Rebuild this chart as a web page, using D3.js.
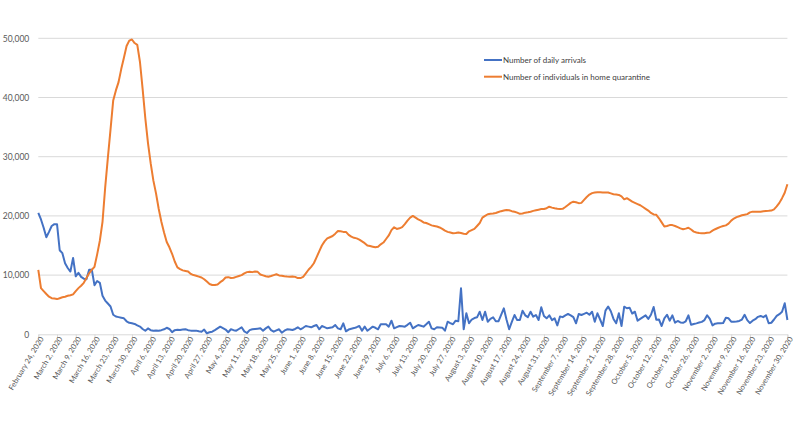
<!DOCTYPE html>
<html><head><meta charset="utf-8">
<script src="https://cdn.jsdelivr.net/npm/d3@7"></script>
<style>
html,body{margin:0;padding:0;background:#fff;}
svg{display:block;font-family:Lato,"Open Sans",sans-serif;}
</style></head>
<body><svg id="c" width="800" height="423"></svg>
<script>
// Daily series, February 24, 2020 to November 30, 2020 (one value per day, 7 per row)
const seriesNames = ["Number of daily arrivals", "Number of individuals in home quarantine"];
const startDay = "2020-02-24";
const endDay = "2020-11-30";
const yTicks = [0, 10000, 20000, 30000, 40000, 50000];

const dailyArrivals = [
20500,19400,18000,16400,17300,18300,18600,
18600,14200,13700,12000,11200,10600,12900,
9800,10400,9700,9400,9300,10900,10900,
8300,9000,8700,6500,5700,5200,4700,
3300,3000,2900,2800,2700,2200,1950,
1850,1750,1500,1300,900,600,1000,
700,600,650,600,700,850,1100,
900,350,700,750,730,800,850,
700,620,600,620,500,440,800,
170,350,440,700,1000,1290,1050,
800,340,850,700,610,900,1180,
500,220,700,850,900,950,1010,
610,1000,1290,700,440,650,850,
270,600,850,800,730,900,1180,
850,1100,1400,1300,1180,1400,1570,
850,1400,1200,1010,1100,1180,1570,
1000,850,1860,500,800,950,1050,
1200,1400,610,1290,610,950,1290,
1100,850,1690,1690,1690,1290,2300,
1010,1200,1400,1350,1290,1600,1960,
1010,1300,1570,1450,1290,1700,2130,
1000,850,1180,1150,1120,610,2130,
1900,1700,2300,2200,7770,850,3550,
1860,2500,2750,2870,3820,2420,3820,
2130,2600,2870,2200,2200,3300,4390,
2500,850,2100,3260,2400,2400,3990,
3200,2900,3820,2980,3260,2420,4560,
3090,2700,3200,2400,2700,1500,3000,
2900,3200,3430,3200,2900,1860,3430,
3260,3450,3650,3300,3820,2130,3550,
2500,1400,4000,4700,3900,2600,1860,
3550,1400,4660,4400,4500,3500,3820,
2300,2600,2900,3200,2600,3300,4600,
2450,2500,1400,2700,3300,2300,3200,
1960,2250,2000,1950,2200,3200,1600,
1740,1850,1980,2100,2400,3200,2600,
1500,1800,1860,1860,1900,2800,2700,
2130,2130,2150,2250,2500,3300,2400,
1900,2300,2550,2950,3100,2900,3200,
1860,1950,2500,3100,3400,3800,5240,
2420];

const homeQuarantine = [
10870,7800,7300,6800,6350,6100,6050,
5950,6100,6250,6350,6500,6600,6750,
7300,7800,8200,8700,9500,10300,10900,
11400,13500,15800,19000,24800,29800,34600,
39500,41200,42600,44800,46700,48700,49600,
49800,49200,48900,46000,41400,36500,32300,
28900,26000,23800,21200,19000,17200,15600,
14700,13600,12300,11300,11000,10800,10700,
10600,10200,10000,9900,9750,9600,9300,
8900,8500,8330,8330,8400,8800,9100,
9600,9650,9500,9550,9700,9850,10000,
10300,10500,10580,10500,10600,10550,10100,
9950,9800,9730,9850,10000,10150,9950,
9900,9800,9750,9730,9750,9700,9500,
9500,9700,10300,10900,11400,12000,13000,
14000,15000,15700,16200,16400,16600,17000,
17450,17400,17300,17300,16800,16500,16300,
16200,16000,15700,15400,15000,14900,14800,
14700,14800,15200,15500,16100,16700,17600,
18080,17800,17900,18100,18600,19200,19700,
20000,19700,19400,19200,18900,18800,18600,
18400,18300,18200,18050,17800,17500,17300,
17200,17070,17100,17200,17100,17000,16950,
17400,17600,17800,18300,18800,19700,20000,
20280,20350,20400,20500,20650,20800,20900,
21000,20950,20800,20700,20550,20350,20400,
20550,20600,20700,20850,20950,21050,21150,
21180,21300,21550,21400,21290,21200,21150,
21200,21500,21850,22200,22400,22300,22150,
22200,22700,23200,23600,23850,23950,24000,
24000,23950,23950,23940,23800,23660,23600,
23540,23300,22800,23000,22700,22400,22200,
22000,21800,21500,21200,20900,20500,20250,
20180,19600,18900,18200,18300,18450,18450,
18300,18100,17900,17740,17850,18000,17700,
17340,17200,17100,17080,17070,17150,17200,
17500,17750,17950,18150,18300,18400,18700,
19200,19550,19800,19950,20100,20200,20300,
20600,20720,20720,20700,20720,20780,20840,
20850,20900,21100,21600,22200,23000,23900,
25350];

const colors = ["#4472C4", "#ED7D31"];

const svg = d3.select("#c");
const parse = d3.utcParse("%Y-%m-%d");
const t0 = parse(startDay), t1 = parse(endDay);
const dates = d3.utcDay.range(t0, d3.utcDay.offset(t1, 1));

const x = d3.scaleUtc().domain([t0, t1]).range([38.3, 787.4]);
const y = d3.scaleLinear().domain([0, 50000]).range([334.3, 38.3]);

// gridlines
svg.append("g").selectAll("line").data(yTicks.filter(d => d > 0)).join("line")
  .attr("x1", x.range()[0]).attr("x2", x.range()[1])
  .attr("y1", d => y(d)).attr("y2", d => y(d))
  .attr("stroke", "#d9d9d9").attr("stroke-width", 1);

// y axis labels
const ya = svg.append("g").attr("transform", `translate(${x.range()[0]},0)`)
  .call(d3.axisLeft(y).tickValues(yTicks).tickFormat(d3.format(",")).tickSize(0).tickPadding(9));
ya.select(".domain").remove();
ya.selectAll("text").attr("fill", "#595959").style("font-size", "8.5px").style("font-family", "Lato, sans-serif");

// x axis
const xTickVals = d3.range(0, dates.length, 7).map(i => dates[i]);
const xa = svg.append("g").attr("transform", `translate(0,${y(0)})`)
  .call(d3.axisBottom(x).tickValues(xTickVals).tickFormat(d3.utcFormat("%B %-d, %Y")).tickSize(4).tickPadding(3));
xa.select(".domain").attr("stroke", "#d9d9d9");
xa.selectAll(".tick line").attr("stroke", "#d9d9d9");
xa.selectAll("text")
  .attr("fill", "#595959").style("font-size", "7.5px").style("font-family", "Lato, sans-serif")
  .attr("text-anchor", "end")
  .attr("transform", "translate(3,3) rotate(-59)")
  .attr("dx", "0").attr("dy", "0.35em").attr("y", 0).attr("x", 0);

// lines
const line = d3.line().x((d, i) => x(dates[i])).y(d => y(d));
[dailyArrivals, homeQuarantine].forEach((s, k) => {
  svg.append("path").datum(s).attr("d", line)
    .attr("fill", "none").attr("stroke", colors[k]).attr("stroke-width", 2)
    .attr("stroke-linejoin", "round");
});

// legend
const lg = svg.append("g");
seriesNames.forEach((n, k) => {
  const yy = 60 + k * 16.7;
  lg.append("line").attr("x1", 484).attr("x2", 502).attr("y1", yy).attr("y2", yy)
    .attr("stroke", colors[k]).attr("stroke-width", 2);
  lg.append("text").attr("x", 503).attr("y", yy).attr("dy", "0.35em")
    .attr("fill", "#404040").style("font-size", "8px").text(n);
});
</script></body></html>
